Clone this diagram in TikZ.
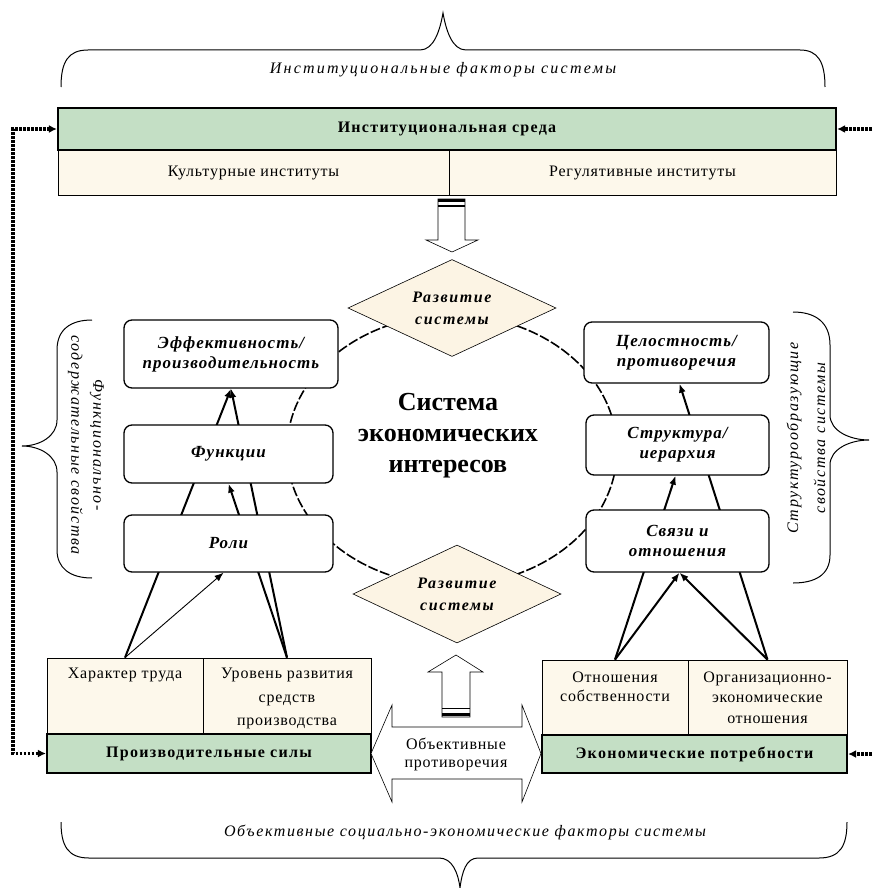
\documentclass[tikz,border=0pt]{standalone}
\usepackage{fontspec}
\setmainfont{Liberation Serif}
\usetikzlibrary{shapes.geometric,arrows.meta,calc}
\pgfdeclarelayer{bg}
\pgfsetlayers{bg,main}
\definecolor{grn}{RGB}{196,223,197}
\definecolor{bge}{RGB}{253,248,235}
\definecolor{dmd}{RGB}{252,244,228}
\newcommand\myls[1]{\addfontfeature{LetterSpace=#1}}
\tikzset{
  rbox/.style={draw, line width=1.3pt, rounded corners=8pt, fill=white, inner sep=0pt, align=center,
    font=\fontsize{17}{20}\selectfont\bfseries\itshape\myls{6}},
  gbox/.style={draw, line width=2.2pt, fill=grn, inner sep=0pt, align=center,
    font=\fontsize{16}{19}\selectfont\bfseries\myls{8}},
  bbox/.style={draw, line width=0.8pt, fill=bge, inner sep=0pt, align=center,
    font=\fontsize{16}{18}\selectfont\myls{5}},
  txt/.style={inner sep=0pt, align=center, font=\fontsize{16}{18}\selectfont\myls{5}},
  dmdnode/.style={draw, line width=0.6pt, fill=dmd, shape=diamond, aspect=2.14, inner sep=0pt, align=center,
    font=\fontsize{16}{22}\selectfont\bfseries\itshape\myls{10}},
  brlabel/.style={inner sep=0pt, align=center, font=\fontsize{16}{18}\selectfont\itshape\myls{10}},
  sidelabel/.style={inner sep=0pt, align=center, font=\fontsize{16}{22}\selectfont\itshape\myls{10}},
  brace/.style={draw, line width=1pt},
  conn/.style={line width=2pt, -{Latex[length=9pt,width=7pt]}},
  thinconn/.style={line width=0.9pt, -{Latex[length=9pt,width=7pt]}},
  dotconn/.style={line width=3.4pt, dash pattern=on 2.6pt off 1.4pt, {Latex[length=8pt,width=8pt]}-{Latex[length=8pt,width=8pt]}},
  dotone/.style={line width=3.4pt, dash pattern=on 2.6pt off 1.4pt, -{Latex[length=8pt,width=8pt]}},
  hollow/.style={draw, line width=0.6pt, fill=white, line join=miter},
  orbit/.style={line width=1.6pt, dash pattern=on 10pt off 2.5pt},
}
\begin{document}
\begin{tikzpicture}[x=1pt,y=-1pt]
\useasboundingbox (0,0) rectangle (872,888);

% ---- top block
\node[gbox, minimum width=778pt, minimum height=42pt] (inst) at (447,129) {Институциональная среда};
\node[bbox, minimum width=391pt, minimum height=45pt] (kult) at (253.5,172.5) {Культурные институты};
\node[bbox, minimum width=387pt, minimum height=45pt] (reg) at (642.5,172.5) {Регулятивные институты};

% ---- top brace
\draw[brace] (61,87) .. controls (61,62) and (68,50) .. (88,50) -- (420,50)
  .. controls (434,50) and (440,30) .. (443,13) .. controls (446,30) and (452,50) .. (466,50)
  -- (800,50) .. controls (818,50) and (825,62) .. (825,87);
\node[brlabel, font=\fontsize{16}{18}\selectfont\itshape\myls{14}] (toplabel) at (443,70) {Институциональные факторы системы};

% ---- bottom brace
\draw[brace] (61,822) .. controls (61,846) and (68,858) .. (89,858) -- (439,858)
  .. controls (452,858) and (458,872) .. (460,888) .. controls (462,872) and (466,858) .. (478,858)
  -- (819,858) .. controls (840,858) and (847,846) .. (847,822);
\node[brlabel] (botlabel) at (465,832) {Объективные социально-экономические факторы системы};

% ---- side braces
\draw[brace] (92,320) .. controls (70,320) and (57,330) .. (57,350) -- (57,420)
  .. controls (57,436) and (40,446) .. (22,446) .. controls (40,446) and (57,456) .. (57,472)
  -- (57,550) .. controls (57,568) and (70,578) .. (92,578);
\node[sidelabel, rotate=-90] (leftlabel) at (86,445) {Функционально-\\содержательные свойства};

\draw[brace] (793,312) .. controls (815,312) and (830,322) .. (830,345) -- (830,415)
  .. controls (830,431) and (850,440) .. (869,440) .. controls (850,440) and (830,449) .. (830,465)
  -- (830,555) .. controls (830,575) and (815,583) .. (793,583);
\node[sidelabel, rotate=90, font=\fontsize{16}{27}\selectfont\itshape\myls{10}] (rightlabel) at (806,438) {Структурообразующие\\свойства системы};

% ---- central boxes
\node[rbox, minimum width=214pt, minimum height=68pt] (eff) at (231,354) {Эффективность/\\производительность};
\node[rbox, minimum width=209pt, minimum height=58pt] (func) at (228.5,454) {Функции};
\node[rbox, minimum width=209pt, minimum height=57pt] (roli) at (228.5,543.5) {Роли};
\node[rbox, minimum width=185pt, minimum height=61pt] (cel) at (676.5,352.5) {Целостность/\\противоречия};
\node[rbox, minimum width=183pt, minimum height=60pt] (str) at (677.5,445) {Структура/\\иерархия};
\node[rbox, minimum width=183pt, minimum height=62pt] (svz) at (677.5,541) {Связи и\\отношения};

\node[dmdnode, minimum width=208pt, minimum height=97pt] (dtop) at (452,308) {Развитие\\системы};
\node[dmdnode, minimum width=208pt, minimum height=98pt] (dbot) at (457,594) {Развитие\\системы};

\node[inner sep=0pt, align=center, font=\fontsize{26}{31}\selectfont\bfseries] (title) at (448,436) {Система\\экономических\\интересов};

% ---- bottom blocks
\node[bbox, minimum width=156pt, minimum height=76pt] (har) at (125,696) {};
\node[txt] (hart) at (125,675) {Характер труда};
\node[bbox, minimum width=168pt, minimum height=76pt] (urov) at (287,696) {};
\node[txt, font=\fontsize{16}{23.5}\selectfont\myls{5}] (urovt) at (287,698.5) {Уровень развития\\средств\\производства};
\node[gbox, minimum width=324pt, minimum height=39pt] (prod) at (209,753.5) {Производительные силы};

\node[bbox, minimum width=146pt, minimum height=75pt] (otn) at (615,697.5) {};
\node[txt, font=\fontsize{16}{19}\selectfont\myls{5}] (otnt) at (615,686.5) {Отношения\\собственности};
\node[bbox, minimum width=159pt, minimum height=75pt] (org) at (767.5,697.5) {};
\node[txt, font=\fontsize{16}{20.5}\selectfont\myls{4}] (orgt) at (767.5,697.5) {Организационно-\\экономические\\отношения};
\node[gbox, minimum width=305pt, minimum height=38pt] (econ) at (694.5,754) {Экономические потребности};

% ---- hollow arrows
\draw[hollow] (438,199) -- (438,240) -- (426,240) -- (452,252) -- (478,240) -- (465,240) -- (465,199) -- cycle;
\draw[line width=2.4pt] (438,200.5) -- (465,200.5);
\draw[line width=2pt] (438,205.5) -- (465,205.5);

\draw[hollow] (442,717) -- (442,672) -- (428,672) -- (456,655) -- (483,672) -- (470,672) -- (470,717) -- cycle;
\draw[line width=1.6pt] (442,708.5) -- (470,708.5);
\draw[line width=3pt] (442,714.5) -- (470,714.5);

\draw[hollow] (371,753.5) -- (392,705) -- (392,727) -- (522,727) -- (522,705) -- (541,753.5)
  -- (522,802) -- (522,779) -- (392,779) -- (392,802) -- cycle;
\node[txt] (obj) at (456,754) {Объективные\\противоречия};

% ---- dotted feedback connectors
\draw[dotconn] (inst.west) -- ++(-44,0) |- (prod.west);
\coordinate (rtop) at (872,129);
\coordinate (rbot) at (872,754);
\draw[dotone] (rtop) -- (inst.east);
\draw[dotone] (rbot) -- (econ.east);

% ---- background: orbit and connectors
\begin{pgfonlayer}{bg}
\draw[orbit] (452,450) ellipse [x radius=165, y radius=135];
\draw[conn] (har.north) -- (eff.south);
\draw[thinconn] (har.north) -- ([xshift=-5pt]roli.south);
\draw[conn] (urov.north) -- (func.south);
\draw[conn] (urov.north) -- (eff.south);
\draw[conn] (otn.north) -- ([xshift=-2pt]str.south);
\draw[conn] (otn.north) -- ([xshift=2pt]svz.south);
\draw[conn] (org.north) -- ([xshift=2pt]svz.south);
\draw[conn] (org.north) -- ([xshift=3pt]cel.south);
\end{pgfonlayer}
\end{tikzpicture}
\end{document}
